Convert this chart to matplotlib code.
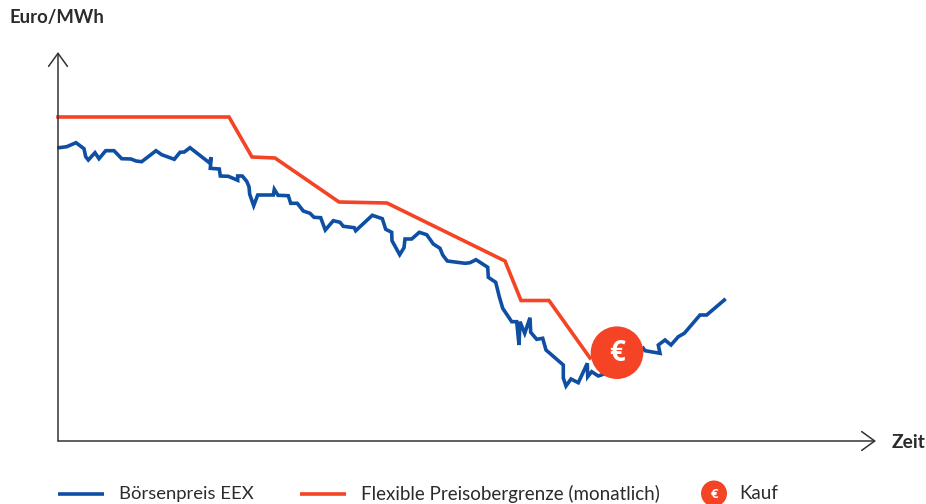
import matplotlib
matplotlib.use("Agg")
import matplotlib.pyplot as plt
from matplotlib.patches import Ellipse

plt.rcParams['font.family'] = ['Lato', 'DejaVu Sans']

time_boerse = [1,8.7,18,26,27.7,30.3,37,41,47.7,56,63.7,73,78,83.7,98,103.7,116.3,122,126.3,132,
    151.3,153.3,152.3,161.3,162.3,170.3,179.7,179.7,184.3,188.7,191,191.7,195.7,199.7,215.3,216.3,220,230.3,232.7,239.3,
    245.3,252,256,262.7,267.3,275.3,282,285.3,296.3,297.7,314.3,324.3,327.7,333.7,334,341.7,346,347,353.7,361.3,
    368.7,375.3,382,384.7,389.3,407,412,418,429.7,430.3,437.7,441.3,444.7,453.7,458.7,461,462,466.7,472,472.7,
    478.7,484.7,488,505.3,505.3,508,513,520.3,529.3,529.7,533.7,540.3,552,572,585.3,587,602,600.3,607,613,
    620.3,626.3,642,648.7,666.3]
price_boerse = [293.3,294.3,298.3,292.3,284.3,281,288.3,282.3,290.3,290.3,282.3,282,280,279.3,290.3,286.3,281.7,288.7,289,293.3,
    278.3,283.7,272.7,272,265,264.7,260.7,265,265,259.7,254.3,246.7,235.3,246,246,251.7,245.7,245.3,237.7,237.7,
    230,227.7,223.7,223.3,211,220.3,218.7,214.7,213.3,210.3,225.7,222.3,211.7,208.7,200.3,186.3,193.3,202,202,208.7,
    206.3,197,192.7,186,180,177.7,178.3,181.3,173.7,163.7,158.7,144.3,132.7,119.3,119.3,96,119.3,107.7,123.3,108.7,
    101.7,102.7,91,76,63,55,62,58.3,77.7,64.3,69.3,65,69,81,92.7,90.3,87.7,96,101,96,
    104.3,107.7,126,126,141]
time_grenze = [0,171,194,217,281,329,447,463,491,532]
price_grenze = [324,324,284,283,239,238,180,140.5,140.5,83]
kauf_time = 559
kauf_price = 88.3

label_y = "Euro/MWh"
label_x = "Zeit"
legend_labels = ["Börsenpreis EEX", "Flexible Preisobergrenze (monatlich)", "Kauf"]
BLUE = "#0F4FA3"
RED = "#F44325"
TEXT = "#2B2B2B"
AXIS = "#333333"

fig = plt.figure(figsize=(9.26, 5.04), dpi=100)
ax = fig.add_axes([0, 0, 1, 1])
ax.set_xlim(-58, 868)
ax.set_ylim(-63, 441)
ax.axis("off")

ax.plot(time_grenze, price_grenze, color=RED, lw=2.6, solid_joinstyle="miter", zorder=2)
ax.plot(time_boerse, price_boerse, color=BLUE, lw=2.6, solid_joinstyle="miter", zorder=3)
ax.add_patch(Ellipse((kauf_time, kauf_price), 52.6, 52.6, color=RED, lw=0, zorder=4))
ax.text(kauf_time, kauf_price - 0.5, "€", color="white", fontsize=20, fontweight="bold",
        family="Open Sans", ha="center", va="center", zorder=5)

arrow = dict(arrowstyle="->,head_length=0.94,head_width=0.68", color=AXIS, lw=1.1, shrinkA=0, shrinkB=0)
ax.annotate("", xy=(0, 389), xytext=(0, 0), arrowprops=arrow)
ax.annotate("", xy=(818, 0), xytext=(0, 0), arrowprops=arrow)

ax.text(-49, 423, label_y, fontsize=13.3, fontweight="bold", color=TEXT, va="center", ha="left")
ax.text(834, -1, label_x, fontsize=13.8, fontweight="bold", color=TEXT, va="center", ha="left")

# legend
ly = -52.5
ax.plot([0, 46], [ly, ly], color=BLUE, lw=2.6, solid_capstyle="butt")
ax.text(61, ly, legend_labels[0], fontsize=13.3, color=TEXT, va="center", ha="left")
ax.plot([242, 288], [ly, ly], color=RED, lw=2.6, solid_capstyle="butt")
ax.text(303, ly, legend_labels[1], fontsize=13.5, color=TEXT, va="center", ha="left")
ax.add_patch(Ellipse((656, ly), 26, 26, color=RED, lw=0))
ax.text(656, ly - 0.5, "€", color="white", fontsize=9.5, fontweight="bold", family="Open Sans",
        ha="center", va="center")
ax.text(681, ly, legend_labels[2], fontsize=13.5, color=TEXT, va="center", ha="left")

fig.savefig("out.png", dpi=100)
